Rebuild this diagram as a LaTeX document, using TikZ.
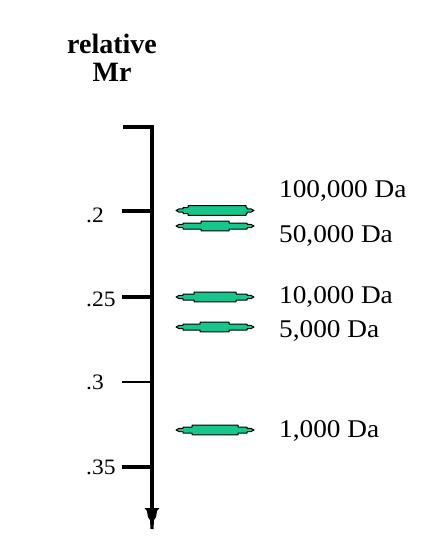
\documentclass[tikz,border=0pt]{standalone}
\usepackage{fontspec}
\setmainfont{Liberation Serif}
\newfontfamily\lblfont[FakeStretch=1.07]{Liberation Serif}
\definecolor{bandgreen}{RGB}{22,198,140}
\begin{document}
\begin{tikzpicture}[x=1pt,y=-1pt,
  axisline/.style={line width=3.5pt},
  tickthin/.style={line width=1.2pt},
  dalabel/.style={anchor=base west,inner sep=0pt,font=\fontsize{25.5}{25.5}\lblfont},
  ticklabel/.style={anchor=base west,inner sep=0pt,font=\fontsize{22}{22}\lblfont},
  titletext/.style={anchor=base,inner sep=0pt,font=\fontsize{28}{28}\selectfont\bfseries},
  bandshape/.style={fill=bandgreen,draw=black,line width=1pt,line join=round}]
\useasboundingbox (0,0) rectangle (442,550);
\newcommand{\gelband}[3]{%
  \filldraw[bandshape] (176,#1) -- (179,#1-1.6) -- (183,#1-1.6) -- (183,#1-3) -- (#2,#1-3) -- (#2,#1-4.8) -- (#3,#1-4.8) -- (#3,#1-3) -- (247,#1-3) -- (247,#1-1.6) -- (251,#1-1.6) -- (254,#1)
  -- (251,#1+1.6) -- (247,#1+1.6) -- (247,#1+3) -- (#3,#1+3) -- (#3,#1+4.8) -- (#2,#1+4.8) -- (#2,#1+3) -- (183,#1+3) -- (183,#1+1.6) -- (179,#1+1.6) -- cycle;}
% title
\node[titletext] (t1) at (112,53) {relative};
\node[titletext] (t2) at (112,81) {Mr};
% axis
\coordinate (topl) at (123,127);
\coordinate (topr) at (152,127);
\coordinate (bot) at (152,512);
\draw[axisline,line join=miter] (topl) -- (topr) -- (bot);
\fill (144.5,508) -- (159.5,508) -- (157,511) -- (156,517) -- (154,520) -- (153.5,529) -- (150.5,529) -- (150,520) -- (148,517) -- (147,511) -- cycle;
% ticks
\coordinate (a2) at (122,211); \coordinate (b2) at (152,211);
\coordinate (a25) at (122,297); \coordinate (b25) at (152,297);
\coordinate (a3) at (122,382); \coordinate (b3) at (152,382);
\coordinate (a35) at (122,467); \coordinate (b35) at (152,467);
\draw[axisline] (a2) -- (b2);
\draw[axisline] (a25) -- (b25);
\draw[tickthin] (a3) -- (b3);
\draw[axisline] (a35) -- (b35);
\node[ticklabel] (l2) at (86,222) {.2};
\node[ticklabel] (l25) at (86,306) {.25};
\node[ticklabel] (l3) at (86,389) {.3};
\node[ticklabel] (l35) at (86,474) {.35};
% bands
\gelband{210.5}{188}{246}
\gelband{226}{201}{229}
\gelband{297}{194}{236}
\gelband{327}{200}{229}
\gelband{430}{192}{238}
% band labels
\node[dalabel] (d1) at (279,197) {100,000 Da};
\node[dalabel] (d2) at (279,242) {50,000 Da};
\node[dalabel] (d3) at (279,303) {10,000 Da};
\node[dalabel] (d4) at (279,337) {5,000 Da};
\node[dalabel] (d5) at (279,437) {1,000 Da};
\end{tikzpicture}
\end{document}
